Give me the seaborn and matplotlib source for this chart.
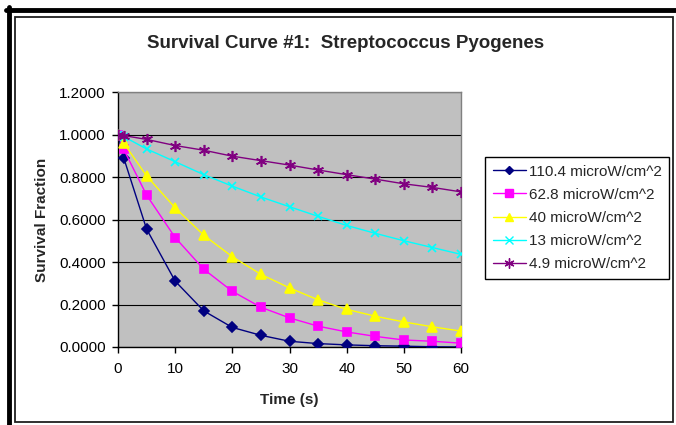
import matplotlib
matplotlib.use("Agg")
import matplotlib.pyplot as plt
import seaborn as sns
import pandas as pd
from matplotlib.lines import Line2D
from matplotlib.patches import Rectangle

# data
time_s = [0, 1, 5, 10, 15, 20, 25, 30, 35, 40, 45, 50, 55, 60]
labels = ["110.4 microW/cm^2", "62.8 microW/cm^2", "40 microW/cm^2",
          "13 microW/cm^2", "4.9 microW/cm^2"]
frac_110 = [1.0, 0.89, 0.555, 0.31, 0.17, 0.092, 0.055, 0.027, 0.016, 0.010, 0.006, 0.004, 0.001, 0.0]
frac_63 = [1.0, 0.93, 0.715, 0.515, 0.366, 0.262, 0.187, 0.137, 0.098, 0.071, 0.050, 0.033, 0.027, 0.018]
frac_40 = [1.0, 0.96, 0.805, 0.655, 0.526, 0.425, 0.342, 0.278, 0.222, 0.177, 0.145, 0.118, 0.095, 0.075]
frac_13 = [1.0, 0.99, 0.932, 0.872, 0.811, 0.757, 0.706, 0.660, 0.615, 0.572, 0.535, 0.500, 0.468, 0.436]
frac_49 = [1.0, 0.995, 0.977, 0.948, 0.926, 0.898, 0.877, 0.856, 0.833, 0.811, 0.790, 0.768, 0.751, 0.730]
series = [frac_110, frac_63, frac_40, frac_13, frac_49]

colors = ["#000080", "#FF00FF", "#FFFF00", "#00FFFF", "#800080"]
markers = ["D", "s", "^", "x", (6, 2, 0)]
msizes = [5, 6, 7, 6, 8]

sns.set_theme(style="white")
plt.rcParams["font.family"] = ["Liberation Sans", "DejaVu Sans"]

fig = plt.figure(figsize=(6.76, 4.25), dpi=100)
ax = fig.add_axes([118 / 676, 1 - 347 / 425, 343 / 676, 255 / 425])
ax.set_facecolor("#C0C0C0")

for lab, vals, c, m, ms in zip(labels, series, colors, markers, msizes):
    df = pd.DataFrame({"t": time_s, "f": vals})
    sns.lineplot(data=df, x="t", y="f", ax=ax, color=c, marker=m,
                 markersize=ms, markeredgecolor=c, markeredgewidth=1.2,
                 linewidth=1, label=lab, zorder=3)

ax.set_xlim(0, 60)
ax.set_ylim(0, 1.2)
ax.set_xticks(range(0, 61, 10))
ax.set_yticks([0, 0.2, 0.4, 0.6, 0.8, 1.0, 1.2])
ax.set_yticklabels([f"{v:.4f}" for v in ax.get_yticks()])
ax.yaxis.grid(True, color="black", linewidth=0.8)
ax.set_axisbelow(True)
ax.tick_params(axis="both", labelsize=11, colors="black", length=4,
               width=1, direction="out", bottom=True, left=True)
ax.tick_params(axis="x", pad=7)
ax.tick_params(axis="y", pad=5)
for side in ["left", "bottom"]:
    ax.spines[side].set_color("black")
    ax.spines[side].set_linewidth(1)
for side in ["top", "right"]:
    ax.spines[side].set_color("#808080")
    ax.spines[side].set_linewidth(1)

ax.set_xlabel("Time (s)", fontsize=11, fontweight="bold", labelpad=12)
ax.set_ylabel("Survival Fraction", fontsize=11, fontweight="bold", labelpad=7)
fig.text(346 / 676, 1 - 44 / 425, "Survival Curve #1:  Streptococcus Pyogenes",
         ha="center", va="center", fontsize=13.5, fontweight="bold")

handles = [Line2D([], [], color=c, marker=m, markersize=ms * 0.9,
                  markeredgecolor=c, linewidth=1)
           for c, m, ms in zip(colors, markers, msizes)]
leg = ax.legend(handles, labels, loc="upper left",
                bbox_to_anchor=(485 / 676, 1 - 157 / 425),
                bbox_transform=fig.transFigure, fontsize=11, frameon=True,
                fancybox=False, edgecolor="black", framealpha=1,
                handlelength=2.2, handletextpad=0.15, labelspacing=0.6,
                borderpad=0.5, borderaxespad=0)
leg.get_frame().set_linewidth(1)

# chart borders
fig.add_artist(Line2D([6 / 676, 1], [1 - 9.5 / 425] * 2, color="black",
                      linewidth=3.5, transform=fig.transFigure))
fig.add_artist(Line2D([8.5 / 676] * 2, [0, 1 - 7 / 425], color="black",
                      linewidth=3.5, transform=fig.transFigure))
fig.add_artist(Rectangle((15 / 676, 1 - 422 / 425), 658 / 676, 405 / 425,
                         fill=False, edgecolor="#202020", linewidth=1.3,
                         transform=fig.transFigure))

fig.savefig("out.png", dpi=100)
